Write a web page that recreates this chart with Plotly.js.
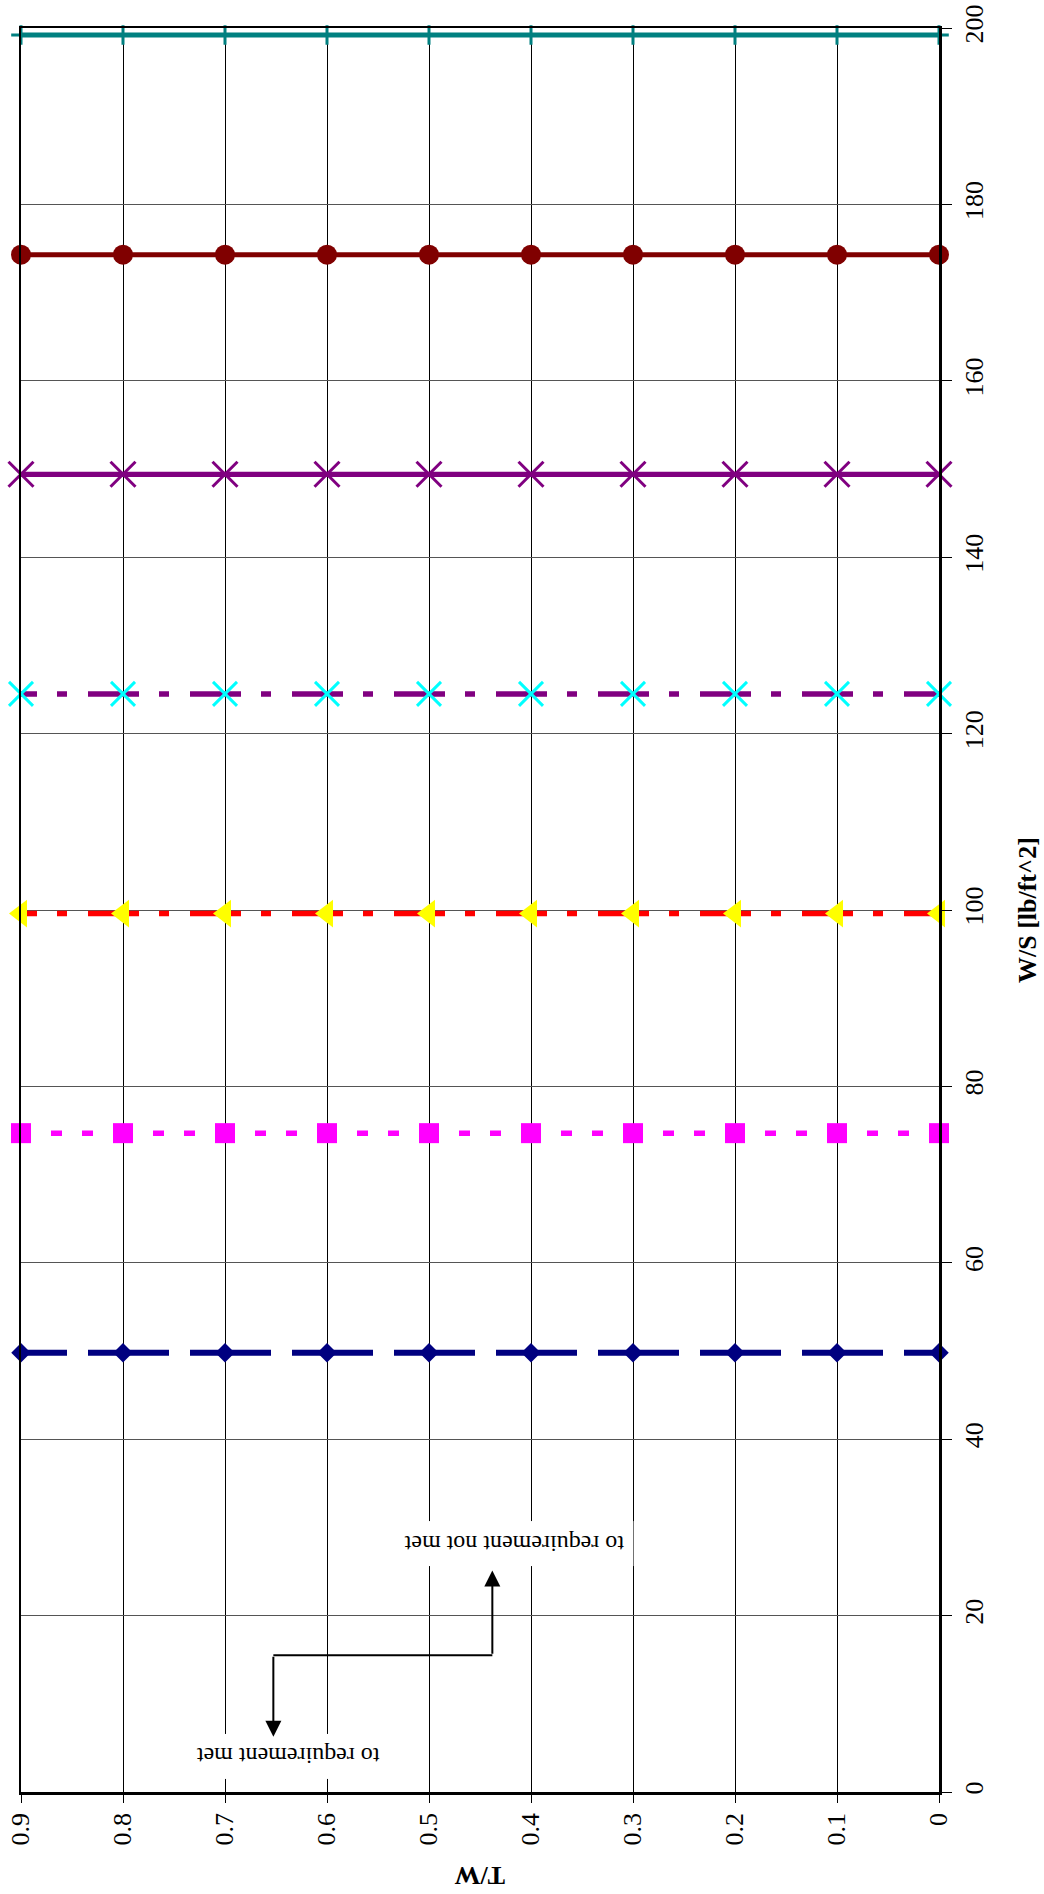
<!DOCTYPE html>
<html><head><meta charset="utf-8">
<script src="https://cdn.plot.ly/plotly-3.0.1.min.js"></script>
<style>html,body{margin:0;padding:0;background:#fff}</style>
</head><body>
<div id="chart" style="width:1044px;height:1894px"></div>
<script>
// ---- data ----
const twValues = [0.9, 0.8, 0.7, 0.6, 0.5, 0.4, 0.3, 0.2, 0.1, 0];
const wsLevels = [49.8, 74.7, 99.6, 124.5, 149.4, 174.3, 199.2];
const xTickVals = [0, 0.1, 0.2, 0.3, 0.4, 0.5, 0.6, 0.7, 0.8, 0.9];
const xTickText = ["0", "0.1", "0.2", "0.3", "0.4", "0.5", "0.6", "0.7", "0.8", "0.9"];
const yTickVals = [0, 20, 40, 60, 80, 100, 120, 140, 160, 180, 200];
const yTickText = ["0", "20", "40", "60", "80", "100", "120", "140", "160", "180", "200"];
const xTitle = "T/W";
const yTitle = "W/S [lb/ft^2]";
const noteNotMet = "to requirement not met";
const noteMet = "to requirement met";

// ---- styles ----
const lineColors = ["#000080", "#FF00FF", "#FF0000", "#800080", "#800080", "#800000", "#008080"];
const lineDashes = ["46px,21px,35px,0px", "10px,20px,11px,20px,11px,20px,10px,0px",
                    "16px,20px,10px,21px,35px,0px", "16px,20px,10px,21px,35px,0px",
                    "solid", "solid", "solid"];
const lineWidths = [6, 5.5, 5.5, 5.5, 5.3, 5, 5];
const markerSymbols = ["diamond", "square", "triangle-left", "x-thin-open", "x-thin-open", "circle", "cross-thin-open"];
const markerColors = ["#000080", "#FF00FF", "#FFFF00", "#00FFFF", "#800080", "#800000", "#008080"];
const markerSizes = [15, 20, 24, 24, 25, 20, 14];
const markerLineWidths = [0, 0, 0, 3, 3, 0, 3];

const FONT = "Liberation Serif, Times New Roman, serif";

const traces = wsLevels.map((ws, i) => ({
  type: "scatter",
  mode: "lines+markers",
  x: twValues,
  y: twValues.map(() => ws),
  cliponaxis: false,
  line: { color: lineColors[i], width: lineWidths[i], dash: lineDashes[i] },
  marker: {
    symbol: markerSymbols[i], size: markerSizes[i], color: markerColors[i],
    line: { width: markerLineWidths[i], color: markerColors[i] }
  },
  showlegend: false,
  hoverinfo: "skip"
}));

// annotation geometry (data coords)
const arrowMetX = 0.6526, arrowNotMetX = 0.4379;
const arrowBarY = 15.5, arrowMetTipY = 6.27, arrowNotMetTipY = 25.1;

const layout = {
  width: 1044, height: 1894,
  margin: { l: 21, r: 105, t: 28, b: 102, pad: 0 },
  paper_bgcolor: "#fff", plot_bgcolor: "#fff",
  font: { family: FONT, size: 26, color: "#000" },
  xaxis: {
    range: [0.9, 0], tickvals: xTickVals, ticktext: xTickText, tickangle: -90,
    ticks: "outside", ticklen: 8, tickwidth: 1, tickcolor: "#000",
    showgrid: true, gridcolor: "#000", gridwidth: 1,
    showline: true, linecolor: "#000", linewidth: 2.5, mirror: true, zeroline: false,
    tickfont: { family: FONT, size: 26, color: "#000" }
  },
  yaxis: {
    side: "right", range: [0, 200], tickvals: yTickVals, ticktext: yTickText, tickangle: -90,
    ticks: "outside", ticklen: 10, tickwidth: 1, tickcolor: "#000",
    showgrid: true, gridcolor: "#555", gridwidth: 1,
    showline: true, linecolor: "#000", linewidth: 2.5, mirror: true, zeroline: false,
    tickfont: { family: FONT, size: 26, color: "#000" }
  },
  shapes: [
    { type: "line", xref: "x", yref: "y", x0: arrowMetX, x1: arrowNotMetX, y0: arrowBarY, y1: arrowBarY,
      line: { color: "#000", width: 2 } }
  ],
  annotations: [
    { xref: "paper", yref: "paper", x: 0.5, y: -0.047, text: "<b>" + xTitle + "</b>", textangle: 180,
      showarrow: false, font: { family: FONT, size: 26, color: "#000" }, xanchor: "center", yanchor: "middle" },
    { xref: "paper", yref: "paper", x: 1.0959, y: 0.5, text: "<b>" + yTitle + "</b>", textangle: -90,
      showarrow: false, font: { family: FONT, size: 26, color: "#000" }, xanchor: "center", yanchor: "middle" },
    { xref: "x", yref: "y", x: 0.4167, y: 28.2, text: noteNotMet, textangle: 180, showarrow: false,
      bgcolor: "#fff", borderpad: 9, font: { family: FONT, size: 24, color: "#000" } },
    { xref: "x", yref: "y", x: 0.638, y: 4.0, text: noteMet, textangle: 180, showarrow: false,
      bgcolor: "#fff", borderpad: 9, font: { family: FONT, size: 24, color: "#000" } },
    { xref: "x", yref: "y", x: arrowMetX, y: arrowMetTipY, axref: "x", ayref: "y", ax: arrowMetX, ay: arrowBarY,
      text: "", showarrow: true, arrowhead: 2, arrowsize: 1.6, arrowwidth: 2, arrowcolor: "#000", standoff: 0 },
    { xref: "x", yref: "y", x: arrowNotMetX, y: arrowNotMetTipY, axref: "x", ayref: "y", ax: arrowNotMetX, ay: arrowBarY,
      text: "", showarrow: true, arrowhead: 2, arrowsize: 1.6, arrowwidth: 2, arrowcolor: "#000", standoff: 0 }
  ]
};

Plotly.newPlot("chart", traces, layout, { staticPlot: true, displayModeBar: false });
</script>
</body></html>
